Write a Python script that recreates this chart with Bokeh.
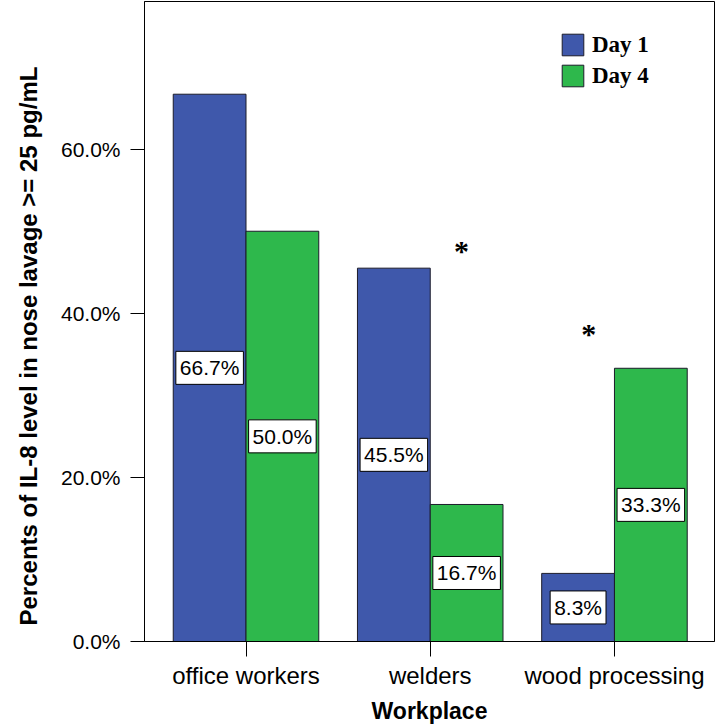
from bokeh.plotting import figure
from bokeh.models import (ColumnDataSource, Range1d, FixedTicker, PrintfTickFormatter,
                          Label, Legend, LegendItem, Title)
from bokeh.transform import dodge
from bokeh.core.properties import value
from bokeh.embed import file_html
from bokeh.resources import INLINE

# ---- data ----
workplaces = ["office workers", "welders", "wood processing"]
day1 = [66.7, 45.5, 8.3]
day4 = [50.0, 16.7, 33.3]
y_ticks = [0, 20, 40, 60]
# significance asterisks (annotation placement: x in category units, y in %)
sig_x = [1.17, 1.86]
sig_y = [47.9, 37.8]

BLUE = "#3f58ab"
GREEN = "#2eb84c"
EDGE = "#1c1c2a"
SANS = "Liberation Sans"
SERIF = "Liberation Serif"

idx = list(range(len(workplaces)))
src = ColumnDataSource(dict(idx=idx, day1=day1, day4=day4))

p = figure(frame_width=570, frame_height=640, output_backend="svg", toolbar_location=None,
           x_range=Range1d(-0.551, 2.543), y_range=Range1d(0, 78),
           min_border_left=142, min_border_right=2, min_border_top=1, min_border_bottom=10)

BW = 0.395
r1 = p.vbar(x=dodge("idx", -BW / 2, range=p.x_range), top="day1", width=BW, source=src,
            fill_color=BLUE, line_color=EDGE, line_width=1)
r4 = p.vbar(x=dodge("idx", BW / 2, range=p.x_range), top="day4", width=BW, source=src,
            fill_color=GREEN, line_color=EDGE, line_width=1)

for i, (a, b) in enumerate(zip(day1, day4)):
    for xv, v in ((i - BW / 2, a), (i + BW / 2, b)):
        p.add_layout(Label(x=xv, y=v / 2, text=f"{v:.1f}%", text_align="center",
                           text_baseline="middle", text_font=SANS, text_font_size="21px",
                           text_color="black", background_fill_color="white",
                           border_line_color="black", border_line_width=1, padding=(4, 5)))

p.text(x=sig_x, y=sig_y, text=["*"] * len(sig_x), text_font=value(SERIF),
       text_font_style="bold", text_font_size="30px", text_align="center",
       text_baseline="middle", y_offset=2, text_color="black")

legend = Legend(items=[LegendItem(label="Day 1", renderers=[r1]),
                       LegendItem(label="Day 4", renderers=[r4])],
                location=(415, 552), glyph_width=27, glyph_height=27, spacing=4,
                padding=0, margin=0, label_standoff=6, label_text_font=SERIF,
                label_text_font_style="bold", label_text_font_size="23px",
                label_text_color="black",
                background_fill_alpha=0, border_line_alpha=0)
p.add_layout(legend)

p.xgrid.visible = False
p.ygrid.visible = False
p.outline_line_color = "black"
p.outline_line_width = 1

xa = p.xaxis[0]
xa.ticker = FixedTicker(ticks=idx)
xa.major_label_overrides = {i: w for i, w in zip(idx, workplaces)}
xa.axis_label = "Workplace"
xa.major_tick_out = 15
xa.major_tick_in = 0
xa.minor_tick_out = 0
xa.minor_tick_in = 0
xa.major_label_standoff = 5
xa.axis_label_standoff = 6
xa.major_label_text_font = SANS
xa.major_label_text_font_size = "24px"
xa.axis_label_text_font = SANS
xa.axis_label_text_font_style = "bold"
xa.axis_label_text_font_size = "23px"
xa.axis_label_text_color = "black"
xa.axis_line_color = "black"
xa.major_tick_line_color = "black"
xa.major_label_text_color = "black"

ya = p.yaxis[0]
ya.ticker = FixedTicker(ticks=y_ticks)
ya.formatter = PrintfTickFormatter(format="%.1f%%")
ya.major_tick_out = 14
ya.major_tick_in = 0
ya.minor_tick_out = 0
ya.minor_tick_in = 0
ya.major_label_standoff = 10
ya.major_label_text_font = SANS
ya.major_label_text_font_size = "21px"
ya.axis_line_color = "black"
ya.major_tick_line_color = "black"
ya.major_label_text_color = "black"

# y-axis title as a left-side title, placed like the reference (starts a little above the axis)
p.add_layout(Title(text="Percents of IL-8 level in nose lavage >= 25 pg/mL", align="left",
                   vertical_align="top", offset=16, standoff=28,
                   text_font=SANS, text_font_style="bold", text_font_size="24px",
                   text_color="black"), "left")

open("out.html", "w").write(file_html(p, INLINE))
